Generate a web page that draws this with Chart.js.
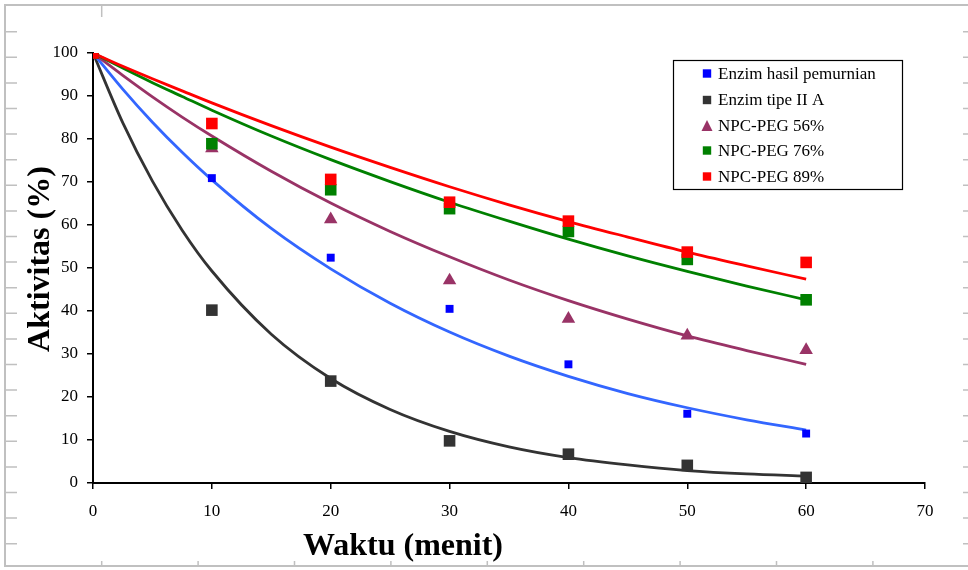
<!DOCTYPE html>
<html>
<head>
<meta charset="utf-8">
<script src="https://cdn.jsdelivr.net/npm/chart.js@4.4.1/dist/chart.umd.min.js"></script>
<style>
  html, body { margin: 0; padding: 0; background: #fff; }
  #wrap { width: 968px; height: 570px; }
</style>
</head>
<body>
<div id="wrap"><canvas id="chartAktivitas" width="968" height="570"></canvas></div>
<script>
// titik pengukuran (menit)
const waktu = [0, 10, 20, 30, 40, 50, 60];

// aktivitas (%) terukur
const enzimMurni = [100, 70.9, 52.4, 40.5, 27.6, 16.1, 11.5];
const enzimTipeIIA = [100, 40.2, 23.7, 9.8, 6.7, 4.1, 1.3];
const peg56 = [100, 77.8, 61.3, 47.1, 38.2, 34.3, 30.9];
const peg76 = [100, 78.9, 68.2, 63.8, 58.5, 52.0, 42.6];
const peg89 = [100, 83.6, 70.6, 65.3, 60.9, 53.7, 51.3];

// garis tren
const waktuTren = [0, 2.5, 5, 7.5, 10, 15, 20, 25, 30, 35, 40, 45, 50, 55, 60];
const trenMurni = [100, 91.6, 83.9, 76.9, 70.5, 59.2, 49.8, 41.8, 35.1, 29.5, 24.8, 20.8, 17.5, 14.7, 12.3];
const trenTipeIIA = [100, 83.8, 70.2, 58.8, 49.3, 34.6, 24.3, 17.1, 12.0, 8.4, 5.9, 4.2, 2.9, 2.1, 1.6];
const tren56 = [100, 94.8, 89.8, 85.1, 80.7, 72.5, 65.1, 58.5, 52.6, 47.2, 42.4, 38.1, 34.2, 30.8, 27.6];
const tren76 = [100, 96.5, 93.1, 89.9, 86.7, 80.7, 75.2, 70.1, 65.3, 60.9, 56.7, 52.8, 49.2, 45.8, 42.6];
const tren89 = [100, 96.9, 94.0, 91.2, 88.4, 83.1, 78.1, 73.4, 68.9, 64.7, 60.8, 57.2, 53.7, 50.5, 47.4];

const xTicks = [0, 10, 20, 30, 40, 50, 60, 70];
const yTicks = [0, 10, 20, 30, 40, 50, 60, 70, 80, 90, 100];

const SERIF = "'Liberation Serif', 'Times New Roman', serif";

function pts(xs, ys) {
    return xs.map((x, i) => ({ x: x, y: ys[i] }));
}

function titik(label, data, color, style, radius, order) {
    return {
        label: label,
        data: pts(waktu, data),
        showLine: false,
        backgroundColor: color,
        borderColor: color,
        borderWidth: 0,
        pointStyle: style,
        pointRadius: radius,
        pointHoverRadius: radius,
        order: order,
        legendStyle: { style: style, size: style === 'triangle' ? 6.5 : 4.2 }
    };
}

function tren(data, color, order) {
    return {
        label: '',
        data: pts(waktuTren, data),
        showLine: true,
        borderColor: color,
        backgroundColor: color,
        borderWidth: 2.8,
        pointRadius: 0,
        pointHoverRadius: 0,
        cubicInterpolationMode: 'monotone',
        fill: false,
        order: order,
        isTrend: true
    };
}

// bingkai abu-abu dengan garis skala di tepinya
const bingkai = {
    id: 'bingkai',
    beforeDraw(chart) {
        const ctx = chart.ctx;
        ctx.save();
        ctx.fillStyle = '#fff';
        ctx.fillRect(0, 0, chart.width, chart.height);
        ctx.strokeStyle = '#c0c0c0';
        ctx.lineWidth = 2;
        ctx.beginPath();
        ctx.moveTo(968, 5); ctx.lineTo(5, 5); ctx.lineTo(5, 566); ctx.lineTo(968, 566);
        ctx.stroke();
        ctx.lineWidth = 1.5;
        ctx.beginPath();
        for (let i = 0; i < 21; i++) {
            const y = 31.7 + 25.6 * i;
            ctx.moveTo(5, y); ctx.lineTo(17, y);
            ctx.moveTo(963, y); ctx.lineTo(968, y);
        }
        for (let i = 0; i < 10; i++) {
            const x = 101.7 + 96.4 * i;
            ctx.moveTo(x, 561); ctx.lineTo(x, 566);
        }
        ctx.moveTo(101.7, 5); ctx.lineTo(101.7, 17);
        ctx.stroke();
        ctx.restore();
    }
};

// judul sumbu dan legenda
const anotasi = {
    id: 'anotasi',
    afterDraw(chart) {
        const ctx = chart.ctx;
        ctx.save();
        ctx.fillStyle = '#000';
        ctx.font = 'bold 32px ' + SERIF;
        ctx.textAlign = 'center';
        ctx.textBaseline = 'middle';
        ctx.fillText('Waktu (menit)', 403, 547);
        ctx.translate(41, 259);
        ctx.rotate(-Math.PI / 2);
        ctx.fillText('Aktivitas (%)', 0, 0);
        ctx.restore();

        // legenda
        ctx.save();
        ctx.fillStyle = '#fff';
        ctx.fillRect(673, 60, 230, 130);
        ctx.strokeStyle = '#000';
        ctx.lineWidth = 1.2;
        ctx.strokeRect(673.5, 60.5, 229, 129);
        ctx.font = '17px ' + SERIF;
        ctx.textAlign = 'left';
        ctx.textBaseline = 'middle';
        const rows = [73.5, 100, 126, 150.5, 176.5];
        const items = chart.data.datasets.filter(d => !d.isTrend);
        items.forEach((d, i) => {
            const y = rows[i];
            const s = d.legendStyle;
            ctx.fillStyle = d.backgroundColor;
            if (s.style === 'triangle') {
                ctx.beginPath();
                ctx.moveTo(707, y - 6);
                ctx.lineTo(712.5, y + 5);
                ctx.lineTo(701.5, y + 5);
                ctx.closePath();
                ctx.fill();
            } else {
                ctx.fillRect(707 - s.size, y - s.size, s.size * 2, s.size * 2);
            }
            ctx.fillStyle = '#000';
            ctx.fillText(d.label, 718, y + 1);
        });
        ctx.restore();
    }
};

new Chart(document.getElementById('chartAktivitas'), {
    type: 'scatter',
    data: {
        datasets: [
            titik('Enzim hasil pemurnian', enzimMurni, '#0000ff', 'rect', 5.6, 5),
            titik('Enzim tipe II A', enzimTipeIIA, '#333333', 'rect', 8.2, 4),
            titik('NPC-PEG 56%', peg56, '#993366', 'triangle', 7.8, 3),
            titik('NPC-PEG 76%', peg76, '#008000', 'rect', 8.2, 2),
            titik('NPC-PEG 89%', peg89, '#ff0000', 'rect', 8.2, 1),
            tren(trenMurni, '#3366ff', 13),
            tren(trenTipeIIA, '#333333', 14),
            tren(tren56, '#993366', 12),
            tren(tren76, '#008000', 11),
            tren(tren89, '#ff0000', 10)
        ]
    },
    options: {
        responsive: false,
        animation: false,
        layout: { padding: { left: 0, top: 53, right: 43, bottom: 0 } },
        plugins: {
            legend: { display: false },
            tooltip: { enabled: false }
        },
        scales: {
            x: {
                type: 'linear',
                min: 0,
                max: 70,
                afterFit(scale) { scale.height = 87; },
                afterBuildTicks(scale) { scale.ticks = xTicks.map(v => ({ value: v })); },
                grid: {
                    drawOnChartArea: false,
                    drawTicks: true,
                    tickLength: 6,
                    color: '#000',
                    lineWidth: 1.5
                },
                border: { color: '#000', width: 2 },
                ticks: {
                    color: '#000',
                    font: { family: SERIF, size: 17 },
                    padding: 12,
                    maxRotation: 0
                }
            },
            y: {
                type: 'linear',
                min: 0,
                max: 100,
                afterFit(scale) { scale.width = 93; },
                afterBuildTicks(scale) { scale.ticks = yTicks.map(v => ({ value: v })); },
                grid: {
                    drawOnChartArea: false,
                    drawTicks: true,
                    tickLength: 6,
                    color: '#000',
                    lineWidth: 1.5
                },
                border: { color: '#000', width: 2 },
                ticks: {
                    color: '#000',
                    font: { family: SERIF, size: 17 },
                    padding: 9
                }
            }
        }
    },
    plugins: [bingkai, anotasi]
});
</script>
</body>
</html>
